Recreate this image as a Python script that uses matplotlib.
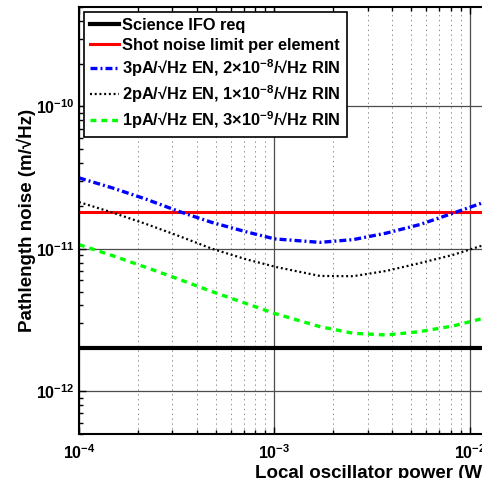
import matplotlib

matplotlib.use("Agg")
import matplotlib.pyplot as plt
from matplotlib.ticker import LogLocator, NullFormatter

plt.rcParams["font.family"] = ["Liberation Sans", "DejaVu Sans"]
plt.rcParams["font.weight"] = "bold"
plt.rcParams["mathtext.default"] = "regular"
plt.rcParams["lines.scale_dashes"] = False

# values (W, m/sqrt(Hz))
science_req = 2e-12
shot_limit = 1.8e-11

p_blue = [1e-4, 1.48e-4, 2.19e-4, 3.25e-4, 4.81e-4, 7.13e-4, 1.0e-3,
          1.71e-3, 2.53e-3, 3.75e-3, 5.55e-3, 8.22e-3, 1.125e-2, 1.4e-2]
n_blue = [3.15e-11, 2.68e-11, 2.24e-11, 1.83e-11, 1.53e-11, 1.32e-11, 1.175e-11,
          1.11e-11, 1.16e-11, 1.29e-11, 1.48e-11, 1.78e-11, 2.07e-11, 2.35e-11]

p_black = [1e-4, 1.48e-4, 2.19e-4, 3.25e-4, 4.81e-4, 7.13e-4, 1.03e-3,
           1.71e-3, 2.53e-3, 3.75e-3, 5.55e-3, 8.22e-3, 1.125e-2, 1.4e-2]
n_black = [2.13e-11, 1.80e-11, 1.50e-11, 1.23e-11, 1.0e-11, 8.46e-12, 7.43e-12,
           6.45e-12, 6.42e-12, 7.0e-12, 7.93e-12, 9.07e-12, 1.04e-11, 1.15e-11]

p_green = [1e-4, 1.48e-4, 2.19e-4, 3.25e-4, 4.81e-4, 7.13e-4, 1.0e-3,
           1.71e-3, 2.53e-3, 3.75e-3, 5.55e-3, 8.22e-3, 1.125e-2, 1.4e-2]
n_green = [1.07e-11, 8.97e-12, 7.43e-12, 6.11e-12, 5.0e-12, 4.14e-12, 3.52e-12,
           2.84e-12, 2.55e-12, 2.48e-12, 2.62e-12, 2.87e-12, 3.2e-12, 3.5e-12]

labels = [
    "Science IFO req",
    "Shot noise limit per element",
    "3pA/\u221aHz EN, 2\u00d710$^{-8}$/\u221aHz RIN",
    "2pA/\u221aHz EN, 1\u00d710$^{-8}$/\u221aHz RIN",
    "1pA/\u221aHz EN, 3\u00d710$^{-9}$/\u221aHz RIN",
]

W, H = 482, 478
fig = plt.figure(figsize=(W / 100, H / 100), dpi=100)
# axes run past the right edge like the cropped original
ax = fig.add_axes([79 / W, 1 - 434 / H, 586 / W, 427 / H])

x_all = [1e-4, 1e-1]
ax.plot(x_all, [science_req] * 2, color="black", lw=3.0, label=labels[0])
ax.plot(x_all, [shot_limit] * 2, color="red", lw=2.2, label=labels[1])
ax.plot(p_blue, n_blue, color="blue", lw=2.4, dashes=(5, 2.2, 1.4, 2.2), label=labels[2])
ax.plot(p_black, n_black, color="black", lw=1.6, dashes=(1.4, 2.0), label=labels[3])
ax.plot(p_green, n_green, color="#00ff00", lw=2.4, dashes=(4.2, 3.6), label=labels[4])

ax.set_xscale("log")
ax.set_yscale("log")
ax.set_xlim(1e-4, 1e-1)
ax.set_ylim(5e-13, 5e-10)

ax.xaxis.set_major_locator(LogLocator(base=10, numticks=10))
ax.xaxis.set_minor_locator(LogLocator(base=10, subs=range(2, 10), numticks=10))
ax.yaxis.set_major_locator(LogLocator(base=10, numticks=10))
ax.yaxis.set_minor_locator(LogLocator(base=10, subs=range(2, 10), numticks=10))
ax.xaxis.set_minor_formatter(NullFormatter())
ax.yaxis.set_minor_formatter(NullFormatter())

ax.grid(True, which="major", axis="both", color="0.3", lw=0.9, ls="-")
ax.grid(True, which="minor", axis="x", color="0.55", lw=0.7, ls=(0, (1, 2.5)))
ax.set_axisbelow(True)

ax.tick_params(which="both", direction="in", top=True, right=True,
               labelsize=11.5, width=1.0)
ax.tick_params(axis="x", which="major", pad=7)
ax.tick_params(axis="y", which="major", pad=3)
ax.tick_params(which="major", length=5)
ax.tick_params(which="minor", length=3)
for lab in ax.get_xticklabels() + ax.get_yticklabels():
    lab.set_fontweight("bold")
for s in ax.spines.values():
    s.set_linewidth(1.5)

ax.set_xlabel("Local oscillator power (W)", fontsize=13.5, fontweight="bold", labelpad=1.5)
ax.set_ylabel("Pathlength noise (m/\u221aHz)", fontsize=13.5, fontweight="bold", labelpad=0)

leg = ax.legend(loc="upper left", bbox_to_anchor=(84 / W, 1 - 12 / H),
                bbox_transform=fig.transFigure, borderaxespad=0,
                fontsize=11.8, handlelength=1.75, handletextpad=0.2,
                borderpad=0.38, labelspacing=0.27, fancybox=False,
                framealpha=1, edgecolor="black")
leg.get_frame().set_linewidth(1.2)
for t in leg.get_texts():
    t.set_fontweight("bold")

fig.savefig("out.png", dpi=100)
